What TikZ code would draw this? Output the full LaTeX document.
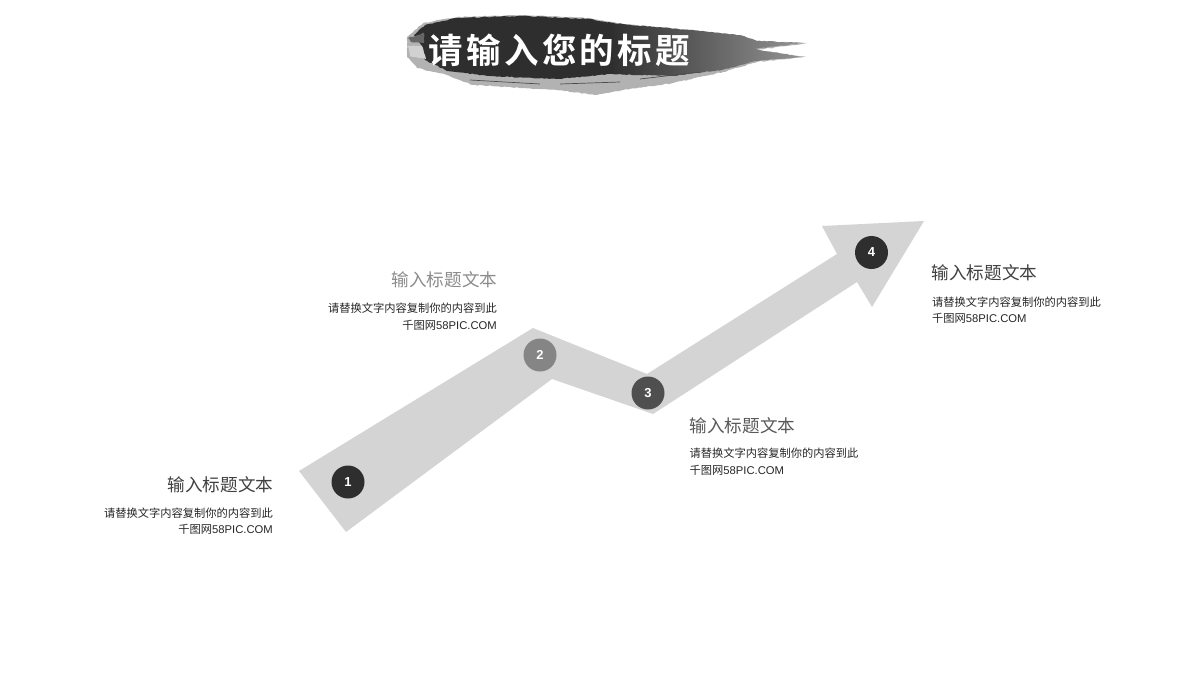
\documentclass[tikz,border=0pt]{standalone}
\usepackage{fontspec}
\usetikzlibrary{decorations.pathmorphing}
\setmainfont{Liberation Sans}
\newfontfamily\cjk{Noto Sans CJK SC}
\newfontfamily\cjkb[LetterSpace=10]{Noto Sans CJK SC Bold}
\newcommand{\bodytext}{{\cjk 请替换文字内容复制你的内容到此}}
\newcommand{\sitetext}{{\cjk 千图网}58PIC.COM}
\tikzset{
  x=1pt,y=-1pt,
  rough/.style={decorate,decoration={random steps,segment length=2.5pt,amplitude=0.5pt}},
  badge/.style={circle,minimum size=33pt,inner sep=0pt,text=white,font=\bfseries\fontsize{13}{13}\selectfont},
  headr/.style={anchor=east,inner sep=0pt,font=\cjk\fontsize{17.6}{20}\selectfont},
  headl/.style={anchor=west,inner sep=0pt,font=\cjk\fontsize{17.6}{20}\selectfont},
  bodyr/.style={anchor=north east,inner sep=0pt,align=right,text=black!85,font=\fontsize{11.25}{16.6}\selectfont},
  bodyl/.style={anchor=north west,inner sep=0pt,align=left,text=black!85,font=\fontsize{11.25}{16.6}\selectfont},
}
\begin{document}
\begin{tikzpicture}
\useasboundingbox[fill=white] (0,0) rectangle (1200,675);
% brush stroke: pale wash over the whole outline
\fill[black!30,rough] (407,37) -- (423,23) -- (457,17) -- (523,15) -- (590,18) -- (623,24) -- (690,30) -- (740,35) -- (757,41) -- (807,43) -- (757,50) -- (806,57) -- (757,62) -- (723,72) -- (673,83) -- (623,90) -- (597,95) -- (557,90) -- (507,87) -- (473,85) -- (447,75) -- (417,68) -- (407,57) -- cycle;
% toned body, greying toward the tip
\shade[left color=black!82,middle color=black!76,right color=black!42,rough] (610,23) -- (690,30) -- (740,35) -- (757,41) -- (803,43) -- (755,49) -- (803,57) -- (755,61) -- (722,70) -- (672,76) -- (610,74) -- cycle;
% dark core
\fill[black!82,rough] (414,35) -- (425,25) -- (457,18) -- (523,16) -- (590,19) -- (612,23) -- (612,74) -- (557,79) -- (490,76) -- (447,71) -- (425,60) -- (422,46) -- cycle;
% left-end dry marks
\fill[black!60,rough] (408,38) -- (424,33) -- (424,43) -- (411,42) -- cycle;
\fill[black!18,rough] (408,46) -- (422,46) -- (426,59) -- (410,56) -- cycle;
% dry-brush streaks
\draw[black!70,line width=.7pt] (640,79) -- (700,72) (470,80) -- (540,84) (560,84) -- (620,82);
\node[text=white,inner sep=0pt,anchor=west,font=\cjkb\fontsize{34.5}{34.5}\selectfont] (title) at (428,50.5) {请输入您的标题};
% arrow
\fill[black!17] (299,471) -- (533,328) -- (647,374) -- (837,254) -- (822,226) -- (924,221) -- (872,307) -- (857,282) -- (653,414) -- (552,379) -- (346,532) -- cycle;
% badges
\node[badge,fill=black!82] (b1) at (348,482) {1};
\node[badge,fill=black!48] (b2) at (540,355) {2};
\node[badge,fill=black!69] (b3) at (648,393) {3};
\node[badge,fill=black!82] (b4) at (871.5,252.5) {4};
% labels
\node[headr,text=black!75] (h1) at (273.5,485) {输入标题文本};
\node[bodyr] (t1) at (273,507.5) {\bodytext\\\sitetext};
\node[headr,text=black!45] (h2) at (497.5,280) {输入标题文本};
\node[bodyr] (t2) at (497,303) {\bodytext\\\sitetext};
\node[headl,text=black!65] (h3) at (689.5,426) {输入标题文本};
\node[bodyl] (t3) at (689.5,448) {\bodytext\\\sitetext};
\node[headl,text=black!75] (h4) at (931.5,273) {输入标题文本};
\node[bodyl] (t4) at (932,296.5) {\bodytext\\\sitetext};
\end{tikzpicture}
\end{document}
